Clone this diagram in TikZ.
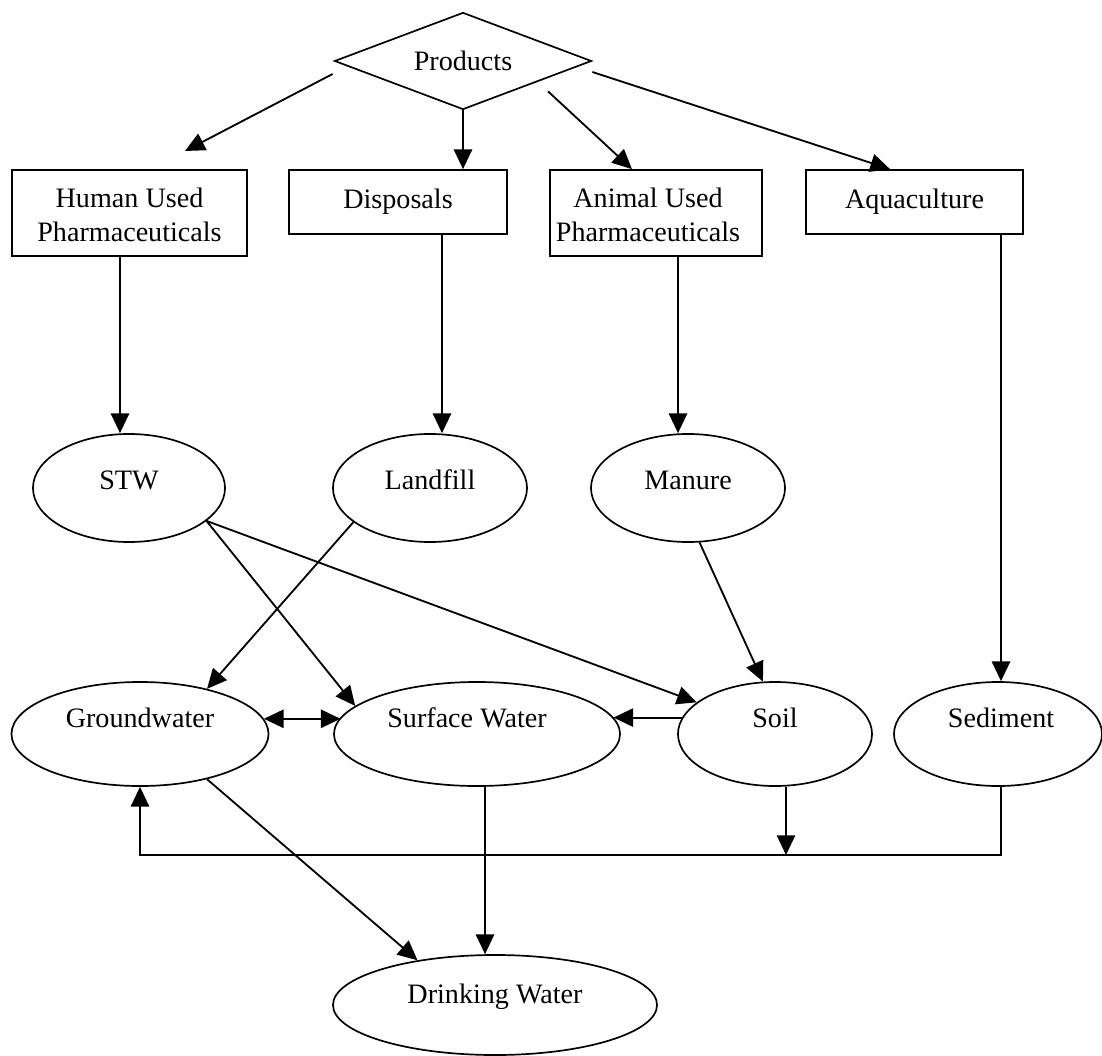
\documentclass[tikz,border=0pt]{standalone}
\usepackage{fontspec}
\setmainfont{Liberation Serif}
\usetikzlibrary{shapes.geometric,arrows.meta,calc}
\begin{document}
\begin{tikzpicture}[x=0.025cm,y=-0.025cm,
  every node/.style={font=\fontsize{20}{24}\selectfont},
  ln/.style={line width=1.3pt},
  arr/.style={ln,-{Triangle[length=14pt,width=13pt]}},
  darr/.style={ln,{Triangle[length=14pt,width=13pt]}-{Triangle[length=14pt,width=13pt]}},
  box/.style={draw,line width=1.2pt,rectangle,inner sep=0pt},
  ell/.style={draw,line width=1.2pt,ellipse,inner sep=0pt},
  row1/.style={ell,minimum height=2.7cm},
  row2/.style={ell,minimum height=2.6cm},
]
\useasboundingbox (0,0) rectangle (1102,1056);

% top diamond
\node[draw,diamond,line width=1.2pt,inner sep=0pt,minimum width=6.425cm,minimum height=2.425cm,
  label=center:Products] (prod) at (463,61) {};

% boxes
\node[box,minimum width=5.875cm,minimum height=2.15cm,
  label={[align=center,yshift=-0.05cm]center:Human Used\\Pharmaceuticals}] (hup) at (129.5,213) {};
\node[box,minimum width=5.45cm,minimum height=1.6cm,
  label=center:Disposals] (dis) at (398,202) {};
\node[box,minimum width=5.3cm,minimum height=2.15cm,
  label={[align=center,xshift=-0.2cm,yshift=-0.05cm]center:Animal Used\\Pharmaceuticals}] (aup) at (656,213) {};
\node[box,minimum width=5.425cm,minimum height=1.6cm,
  label=center:Aquaculture] (aqu) at (914.5,202) {};

% first row of ellipses
\node[row1,minimum width=4.8cm,label={[yshift=0.2cm]center:STW}] (stw) at (129,488) {};
\node[row1,minimum width=4.85cm,label={[yshift=0.2cm]center:Landfill}] (lan) at (430,488) {};
\node[row1,minimum width=4.85cm,label={[yshift=0.2cm]center:Manure}] (man) at (688,488) {};

% second row
\node[row2,minimum width=6.425cm,label={[yshift=0.4cm]center:Groundwater}] (gw) at (140,734) {};
\node[row2,minimum width=7.15cm,label={[yshift=0.4cm,xshift=-0.25cm]center:Surface Water}] (sw) at (477,734) {};
\node[row2,minimum width=4.85cm,label={[yshift=0.4cm]center:Soil}] (soil) at (775,734) {};
\node[row2,minimum width=5.2cm,label={[yshift=0.4cm,xshift=0.075cm]center:Sediment}] (sed) at (998,734) {};

% drinking water
\node[ell,minimum width=8.1cm,minimum height=2.5cm,label={[yshift=0.2cm]center:Drinking Water}] (dw) at (495,1005) {};

% arrows from Products
\coordinate (hupin) at (185,151);
\draw[arr] ($(prod.west)+(-1,13)$) -- (hupin);
\draw[arr] (prod.south) -- (prod.south |- dis.north);
\draw[arr] ($(prod.south)+(85,-19)$) -- ($(aup.north)+(-24,0)$);
\draw[arr] ($(prod.east)+(0,11)$) -- ($(aqu.north)+(-24.5,0)$);

% boxes down to ellipses
\draw[arr] ($(hup.south)+(-9.5,0)$) -- ($(stw.north)+(-9,0)$);
\draw[arr] ($(dis.south)+(44,0)$) -- ($(lan.north)+(12,0)$);
\draw[arr] ($(aup.south)+(22,0)$) -- ($(man.north)+(-10,0)$);
\draw[arr] ($(aqu.south)+(86.5,0)$) -- ($(sed.north)+(3,0)$);

% diagonals
\draw[arr] (stw.-23) -- (sw.167);
\draw[arr] (stw.-23) -- (soil.158);
\draw[arr] (lan.204) -- (gw.34);
\draw[arr] (man.-78) -- (soil.103);

% horizontal
\draw[darr] (gw.7) -- (gw.7 -| sw.173);
\draw[arr] (soil.170) -- (soil.170 -| sw.7);

% to drinking water
\draw[arr] (gw.-34) -- (dw.150);
\coordinate (xsd) at (485,0);
\draw[arr] (xsd |- sw.south) -- (xsd |- dw.north);

% bottom return line
\coordinate (jn) at (786,855);
\draw[arr] (jn |- soil.south) -- (jn);
\draw[arr] ($(sed.south)+(3,0)$) |- (gw.south |- jn) -- (gw.south);
\end{tikzpicture}
\end{document}
